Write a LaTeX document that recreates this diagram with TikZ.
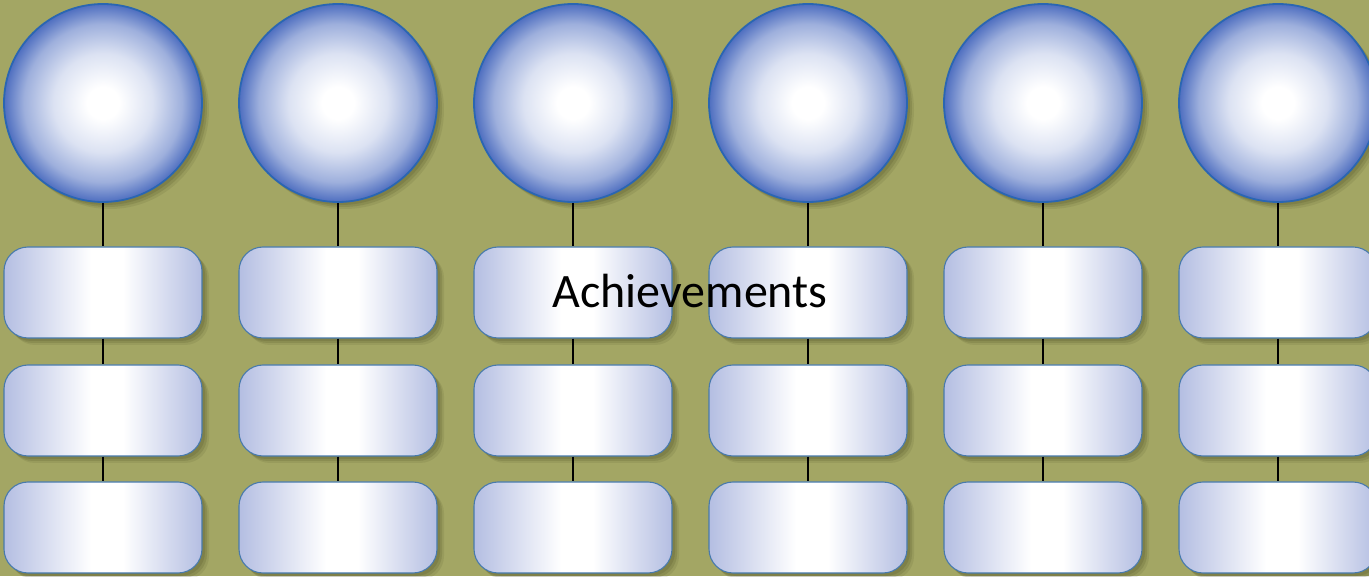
\documentclass[tikz,border=0pt]{standalone}
\usepackage{fontspec}
\setmainfont{Carlito}
\usepackage{tikz}
\usetikzlibrary{shadows}

\definecolor{olivebg}{RGB}{163,166,100}
\definecolor{olivedark}{RGB}{60,62,25}
\definecolor{sphereedge}{RGB}{78,110,192}
\definecolor{sphereline}{RGB}{42,102,178}
\definecolor{boxside}{RGB}{180,190,226}
\definecolor{boxline}{RGB}{72,122,172}

\pgfdeclareradialshading{sphere}{\pgfpoint{0bp}{0bp}}{color(0bp)=(white); color(4bp)=(white); color(12.5bp)=(sphereedge!20!white); color(20bp)=(sphereedge!55!white); color(25bp)=(sphereedge); color(50bp)=(sphereedge)}
\pgfdeclarehorizontalshading{panel}{100bp}{color(0bp)=(boxside); color(25bp)=(boxside); color(47bp)=(white); color(55bp)=(white); color(75bp)=(boxside); color(100bp)=(boxside)}

\tikzset{
    softshadow/.style={
        drop shadow={shadow xshift=3pt, shadow yshift=-3pt, opacity=0.15, fill=olivedark},
        drop shadow={shadow xshift=5pt, shadow yshift=-5pt, opacity=0.15, fill=olivedark},
        drop shadow={shadow xshift=7pt, shadow yshift=-7pt, opacity=0.1, fill=olivedark}},
    disc/.style={circle, minimum size=198pt, inner sep=0pt, shading=sphere, draw=sphereline, line width=1.8pt, softshadow},
    panelbox/.style={rectangle, rounded corners=24pt, minimum width=198pt, minimum height=91pt, inner sep=0pt,
        shading=panel, draw=boxline, line width=1.1pt, softshadow},
    stem/.style={black, line width=1.5pt}
}

\begin{document}
\begin{tikzpicture}[x=1pt, y=1pt]
    % Background
    \fill[olivebg] (0, 0) rectangle (1369, 576);
    \useasboundingbox (0, 0) rectangle (1369, 576);

    % Columns: one sphere above three boxes
    \foreach \i in {1,...,6} {
        \pgfmathsetmacro{\cx}{103 + 235*(\i-1)}
        \node[disc] (disc\i) at (\cx, 473) {};
        \node[panelbox] (boxa\i) at (\cx, 283.5) {};
        \node[panelbox] (boxb\i) at (\cx, 165.5) {};
        \node[panelbox] (boxc\i) at (\cx, 48.5) {};
        \draw[stem] (disc\i.south) -- (boxa\i.north);
        \draw[stem] (boxa\i.south) -- (boxb\i.north);
        \draw[stem] (boxb\i.south) -- (boxc\i.north);
    }

    % Title
    \node[font=\fontsize{48}{58}\selectfont] (title) at (690, 285) {Achievements};
\end{tikzpicture}
\end{document}
